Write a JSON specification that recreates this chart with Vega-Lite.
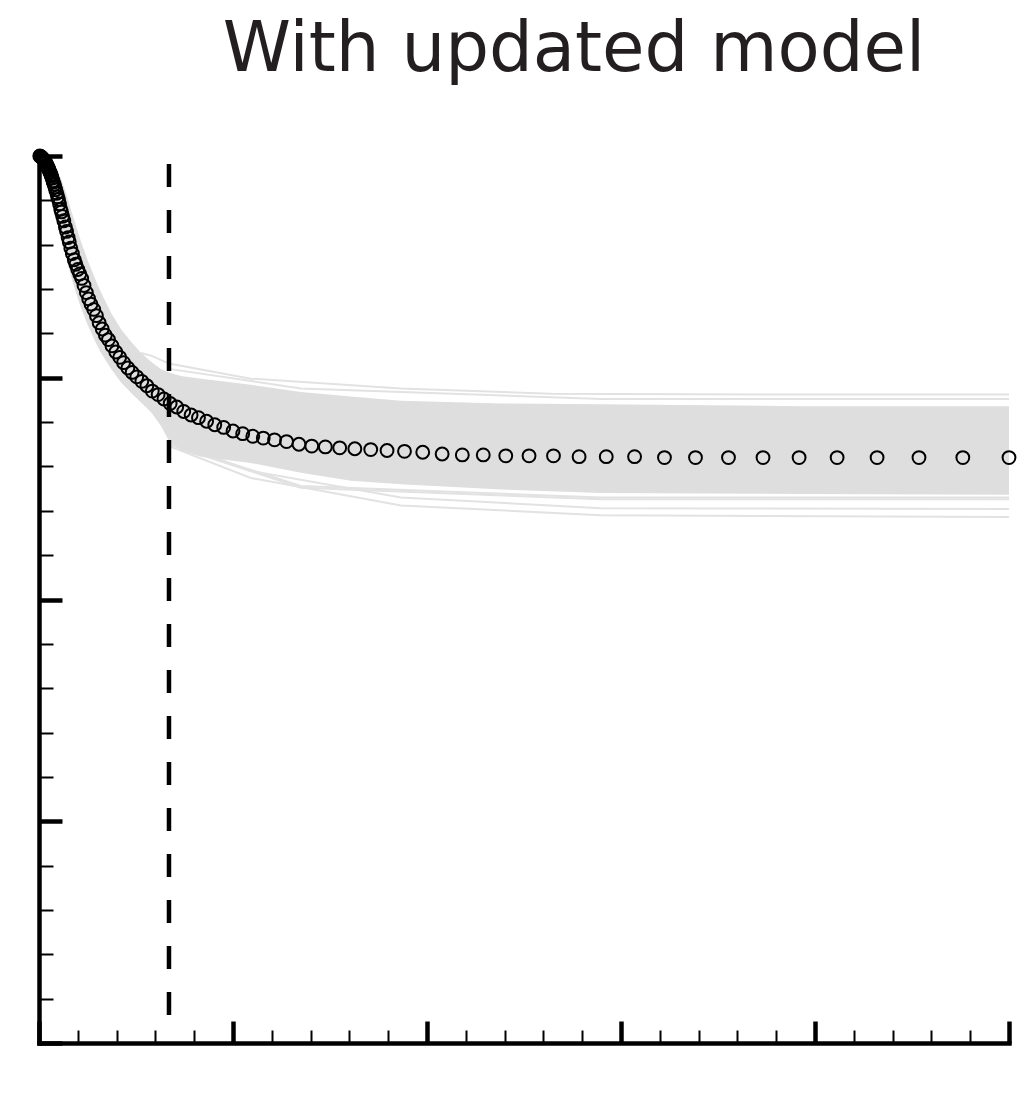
{
  "$schema": "https://vega.github.io/schema/vega-lite/v6.json",
  "width": 970,
  "height": 887,
  "autosize": {"type": "none"},
  "padding": {"left": 39, "top": 156, "right": 23, "bottom": 70},
  "background": "white",
  "title": {
    "text": "With updated model",
    "font": "DejaVu Sans",
    "fontSize": 69,
    "fontWeight": "normal",
    "color": "#231f20",
    "anchor": "middle",
    "frame": "group",
    "baseline": "alphabetic",
    "dx": 50,
    "offset": 6
  },
  "config": {
    "view": {"stroke": null},
    "axis": {
      "labels": false,
      "grid": false,
      "title": null,
      "domainColor": "black",
      "domainWidth": 4.5,
      "domainCap": "square",
      "tickColor": "black",
      "offset": 0
    }
  },
  "datasets": {
    "band": [
      {"t": 0, "hi": 100.0, "lo": 99.7},
      {"t": 1.8, "hi": 99.8, "lo": 98.1},
      {"t": 3.1, "hi": 99.4, "lo": 96.1},
      {"t": 4.4, "hi": 98.6, "lo": 93.6},
      {"t": 5.7, "hi": 97.4, "lo": 91.0},
      {"t": 7.0, "hi": 95.8, "lo": 88.7},
      {"t": 8.2, "hi": 94.0, "lo": 86.5},
      {"t": 9.5, "hi": 92.2, "lo": 84.6},
      {"t": 10.8, "hi": 90.4, "lo": 82.9},
      {"t": 12.6, "hi": 88.2, "lo": 80.9},
      {"t": 14.7, "hi": 85.9, "lo": 78.9},
      {"t": 16.0, "hi": 84.6, "lo": 77.8},
      {"t": 18.6, "hi": 82.3, "lo": 76.0},
      {"t": 21.1, "hi": 80.5, "lo": 74.5},
      {"t": 23.7, "hi": 79.1, "lo": 73.3},
      {"t": 26.3, "hi": 77.8, "lo": 72.2},
      {"t": 28.9, "hi": 76.8, "lo": 71.1},
      {"t": 31.4, "hi": 76.0, "lo": 69.6},
      {"t": 33.5, "hi": 75.6, "lo": 67.9},
      {"t": 36.6, "hi": 75.2, "lo": 66.8},
      {"t": 41.8, "hi": 74.9, "lo": 66.1},
      {"t": 54.6, "hi": 74.2, "lo": 65.4},
      {"t": 67.5, "hi": 73.4, "lo": 64.3},
      {"t": 80.4, "hi": 72.9, "lo": 63.4},
      {"t": 93.3, "hi": 72.4, "lo": 63.0},
      {"t": 119.1, "hi": 72.1, "lo": 62.4},
      {"t": 144.8, "hi": 72.0, "lo": 62.0},
      {"t": 196.4, "hi": 71.8, "lo": 61.9},
      {"t": 250, "hi": 71.8, "lo": 61.8}
    ],
    "outliers": [
      {"id": "u1", "t": 26.3, "y": 77.8},
      {"id": "u1", "t": 28.9, "y": 77.5},
      {"id": "u1", "t": 33.5, "y": 76.6},
      {"id": "u1", "t": 54.6, "y": 74.9},
      {"id": "u1", "t": 93.3, "y": 73.8},
      {"id": "u1", "t": 132, "y": 73.2},
      {"id": "u1", "t": 190, "y": 73.1},
      {"id": "u1", "t": 250, "y": 73.1},
      {"id": "u2", "t": 33.5, "y": 76.0},
      {"id": "u2", "t": 67.5, "y": 73.8},
      {"id": "u2", "t": 144.8, "y": 72.6},
      {"id": "u2", "t": 250, "y": 72.6},
      {"id": "l1", "t": 33.5, "y": 67.9},
      {"id": "l1", "t": 54.6, "y": 64.5},
      {"id": "l1", "t": 93.3, "y": 61.5},
      {"id": "l1", "t": 144.8, "y": 60.3},
      {"id": "l1", "t": 250, "y": 60.2},
      {"id": "l2", "t": 33.5, "y": 67.3},
      {"id": "l2", "t": 54.6, "y": 63.7},
      {"id": "l2", "t": 93.3, "y": 60.6},
      {"id": "l2", "t": 144.8, "y": 59.5},
      {"id": "l2", "t": 250, "y": 59.3},
      {"id": "l3", "t": 33.5, "y": 67.6},
      {"id": "l3", "t": 67.5, "y": 62.8},
      {"id": "l3", "t": 144.8, "y": 61.5},
      {"id": "l3", "t": 250, "y": 61.5},
      {"id": "l4", "t": 33.5, "y": 67.5},
      {"id": "l4", "t": 67.5, "y": 62.6},
      {"id": "l4", "t": 144.8, "y": 61.3},
      {"id": "l4", "t": 250, "y": 61.3}
    ],
    "vline": [{"t": 33.5, "hi": 99.1, "lo": 2.8}],
    "obs": [
      {"t": 0.2, "y": 100.0}, {"t": 0.4, "y": 99.95}, {"t": 0.6, "y": 99.9}, {"t": 0.8, "y": 99.8},
      {"t": 1.0, "y": 99.7}, {"t": 1.2, "y": 99.6}, {"t": 1.4, "y": 99.5}, {"t": 1.6, "y": 99.35},
      {"t": 1.8, "y": 99.2}, {"t": 2.0, "y": 99.0}, {"t": 2.1, "y": 98.9}, {"t": 2.2, "y": 98.8},
      {"t": 2.3, "y": 98.7}, {"t": 2.4, "y": 98.6}, {"t": 2.5, "y": 98.5}, {"t": 2.6, "y": 98.4},
      {"t": 2.8, "y": 98.2}, {"t": 2.9, "y": 98.1}, {"t": 3.1, "y": 97.9}, {"t": 3.2, "y": 97.75},
      {"t": 3.4, "y": 97.5}, {"t": 3.6, "y": 97.2}, {"t": 3.7, "y": 97.05}, {"t": 3.9, "y": 96.8},
      {"t": 4.1, "y": 96.5}, {"t": 4.3, "y": 96.2}, {"t": 4.6, "y": 95.8}, {"t": 4.8, "y": 95.4},
      {"t": 5.0, "y": 95.1}, {"t": 5.3, "y": 94.6}, {"t": 5.6, "y": 94.0}, {"t": 5.8, "y": 93.7},
      {"t": 6.1, "y": 93.2}, {"t": 6.4, "y": 92.7}, {"t": 6.8, "y": 92.0}, {"t": 7.1, "y": 91.5},
      {"t": 7.5, "y": 90.8}, {"t": 7.8, "y": 90.3}, {"t": 8.2, "y": 89.6}, {"t": 8.6, "y": 89.0},
      {"t": 9.1, "y": 88.3}, {"t": 9.5, "y": 87.8}, {"t": 10.0, "y": 87.2}, {"t": 10.5, "y": 86.7},
      {"t": 11.0, "y": 86.2}, {"t": 11.6, "y": 85.4}, {"t": 12.2, "y": 84.6}, {"t": 12.8, "y": 83.9},
      {"t": 13.4, "y": 83.3}, {"t": 14.1, "y": 82.7}, {"t": 14.8, "y": 82.0}, {"t": 15.5, "y": 81.2},
      {"t": 16.3, "y": 80.5}, {"t": 17.1, "y": 79.8}, {"t": 17.9, "y": 79.3}, {"t": 18.8, "y": 78.6},
      {"t": 19.8, "y": 77.9}, {"t": 20.8, "y": 77.3}, {"t": 21.8, "y": 76.7}, {"t": 22.9, "y": 76.1},
      {"t": 24.0, "y": 75.6}, {"t": 25.2, "y": 75.1}, {"t": 26.5, "y": 74.6}, {"t": 27.8, "y": 74.1},
      {"t": 29.2, "y": 73.5}, {"t": 30.7, "y": 73.1}, {"t": 32.2, "y": 72.6}, {"t": 33.8, "y": 72.1},
      {"t": 35.5, "y": 71.7}, {"t": 37.3, "y": 71.2}, {"t": 39.2, "y": 70.8}, {"t": 41.1, "y": 70.5},
      {"t": 43.2, "y": 70.1}, {"t": 45.3, "y": 69.7}, {"t": 47.6, "y": 69.4}, {"t": 50.0, "y": 69.0},
      {"t": 52.5, "y": 68.7}, {"t": 55.1, "y": 68.4}, {"t": 57.8, "y": 68.2}, {"t": 60.7, "y": 68.0},
      {"t": 63.8, "y": 67.8}, {"t": 67.0, "y": 67.5}, {"t": 70.3, "y": 67.3}, {"t": 73.8, "y": 67.2},
      {"t": 77.5, "y": 67.1}, {"t": 81.4, "y": 67.0}, {"t": 85.5, "y": 66.9}, {"t": 89.7, "y": 66.8},
      {"t": 94.2, "y": 66.7}, {"t": 98.9, "y": 66.6}, {"t": 103.9, "y": 66.4}, {"t": 109.1, "y": 66.3},
      {"t": 114.5, "y": 66.3}, {"t": 120.3, "y": 66.2}, {"t": 126.3, "y": 66.2}, {"t": 132.6, "y": 66.2},
      {"t": 139.2, "y": 66.1}, {"t": 146.2, "y": 66.1}, {"t": 153.5, "y": 66.1}, {"t": 161.2, "y": 66.0},
      {"t": 169.2, "y": 66.0}, {"t": 177.7, "y": 66.0}, {"t": 186.6, "y": 66.0}, {"t": 195.9, "y": 66.0},
      {"t": 205.7, "y": 66.0}, {"t": 216.0, "y": 66.0}, {"t": 226.8, "y": 66.0}, {"t": 238.1, "y": 66.0},
      {"t": 250, "y": 66.0}
    ]
  },
  "encoding": {
    "x": {
      "field": "t", "type": "quantitative", "title": null,
      "scale": {"domain": [0, 250], "nice": false, "zero": false},
      "axis": {
        "values": [0, 10, 20, 30, 40, 50, 60, 70, 80, 90, 100, 110, 120, 130, 140, 150, 160, 170, 180, 190, 200, 210, 220, 230, 240, 250],
        "tickSize": {"condition": {"test": "datum.value % 50 === 0", "value": -22}, "value": -13},
        "tickWidth": {"condition": {"test": "datum.value % 50 === 0", "value": 4.5}, "value": 2}
      }
    }
  },
  "layer": [
    {
      "data": {"name": "outliers"},
      "mark": {"type": "line", "color": "#e2e2e2", "strokeWidth": 2},
      "encoding": {
        "y": {
          "field": "y", "type": "quantitative", "title": null,
          "scale": {"domain": [0, 100], "nice": false, "zero": false},
          "axis": {
            "values": [0, 5, 10, 15, 20, 25, 30, 35, 40, 45, 50, 55, 60, 65, 70, 75, 80, 85, 90, 95, 100],
            "tickSize": {"condition": {"test": "datum.value % 25 === 0", "value": -23}, "value": -14},
            "tickWidth": {"condition": {"test": "datum.value % 25 === 0", "value": 4.5}, "value": 2}
          }
        },
        "detail": {"field": "id"}
      }
    },
    {
      "data": {"name": "band"},
      "mark": {"type": "area", "color": "#dedede", "opacity": 1},
      "encoding": {
        "y": {
          "field": "hi", "type": "quantitative", "title": null,
          "axis": {
            "values": [0, 5, 10, 15, 20, 25, 30, 35, 40, 45, 50, 55, 60, 65, 70, 75, 80, 85, 90, 95, 100],
            "tickSize": {"condition": {"test": "datum.value % 25 === 0", "value": -23}, "value": -14},
            "tickWidth": {"condition": {"test": "datum.value % 25 === 0", "value": 4.5}, "value": 2}
          }
        },
        "y2": {"field": "lo"}
      }
    },
    {
      "data": {"name": "vline"},
      "mark": {"type": "rule", "color": "black", "strokeWidth": 4.5, "strokeDash": [23, 23]},
      "encoding": {
        "y": {
          "field": "hi", "type": "quantitative", "title": null,
          "axis": {
            "values": [0, 5, 10, 15, 20, 25, 30, 35, 40, 45, 50, 55, 60, 65, 70, 75, 80, 85, 90, 95, 100],
            "tickSize": {"condition": {"test": "datum.value % 25 === 0", "value": -23}, "value": -14},
            "tickWidth": {"condition": {"test": "datum.value % 25 === 0", "value": 4.5}, "value": 2}
          }
        },
        "y2": {"field": "lo"}
      }
    },
    {
      "data": {"name": "obs"},
      "mark": {"type": "point", "shape": "circle", "filled": false, "stroke": "black", "strokeWidth": 2, "size": 165, "opacity": 1},
      "encoding": {
        "y": {
          "field": "y", "type": "quantitative", "title": null,
          "axis": {
            "values": [0, 5, 10, 15, 20, 25, 30, 35, 40, 45, 50, 55, 60, 65, 70, 75, 80, 85, 90, 95, 100],
            "tickSize": {"condition": {"test": "datum.value % 25 === 0", "value": -23}, "value": -14},
            "tickWidth": {"condition": {"test": "datum.value % 25 === 0", "value": 4.5}, "value": 2}
          }
        }
      }
    }
  ]
}
